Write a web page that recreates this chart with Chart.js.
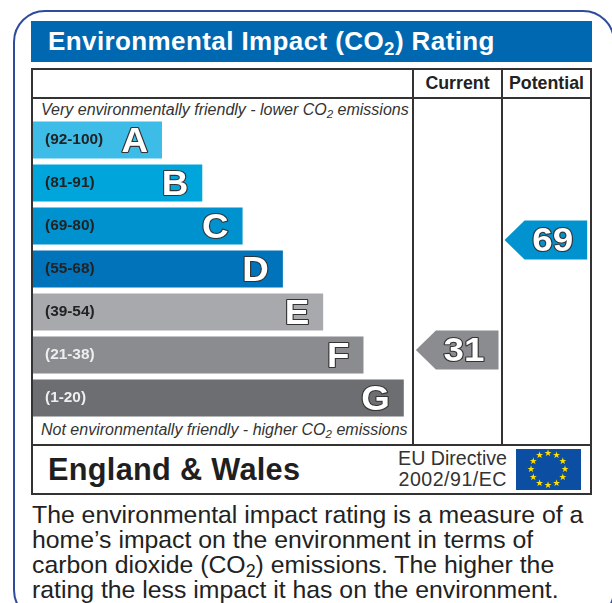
<!DOCTYPE html>
<html>
<head>
<meta charset="utf-8">
<script src="https://cdn.jsdelivr.net/npm/chart.js@4"></script>
<style>
  html, body { margin: 0; padding: 0; background: #fff; overflow: hidden; }
  #page { position: relative; width: 612px; height: 603px; overflow: hidden; font-family: "Liberation Sans", Arial, sans-serif; color: #222; }
  #page div { position: absolute; box-sizing: border-box; white-space: nowrap; }
  canvas { position: absolute; left: 0; top: 0; }
  sub { font-size: 0.72em; line-height: 0; vertical-align: -0.25em; }
  #outer { left: 13px; top: 10px; width: 602px; height: 612px; border: 2.5px solid #2f4b9b; border-radius: 32px; }
  #header { left: 31px; top: 21px; width: 561px; height: 41px; background: #0068b0; color: #fff; font-weight: bold; font-size: 26px; line-height: 41px; padding-left: 17px; letter-spacing: 0.4px; }
  #frame { left: 31px; top: 68px; width: 561px; height: 427px; border: 2px solid #333; }
  .line { background: #333; }
  .col { font-weight: bold; font-size: 17.8px; text-align: center; top: 71px; line-height: 25px; }
  .note { font-style: italic; font-size: 16px; left: 41px; color: #333; }
  #country { left: 48px; top: 452px; font-weight: bold; font-size: 30.7px; line-height: 36px; color: #1f1f1f; letter-spacing: 0.3px; }
  .eu { left: 387px; width: 120px; text-align: right; font-size: 19.6px; line-height: 21px; color: #333; }
  #footer { left: 32px; top: 502px; font-size: 24.8px; line-height: 25px; color: #222; }
</style>
</head>
<body>
<div id="page">
  <div id="outer"></div>
  <div id="header">Environmental Impact (CO<sub>2</sub>) Rating</div>
  <div id="frame"></div>
  <div class="line" style="left:31px;top:97px;width:561px;height:2px"></div>
  <div class="line" style="left:31px;top:444px;width:561px;height:2px"></div>
  <div class="line" style="left:412px;top:68px;width:2px;height:377px"></div>
  <div class="line" style="left:501px;top:68px;width:2px;height:377px"></div>
  <div class="col" style="left:414px;width:87px">Current</div>
  <div class="col" style="left:503px;width:87px">Potential</div>
  <div class="note" style="top:101px">Very environmentally friendly - lower CO<sub>2</sub> emissions</div>
  <div class="note" style="top:421px">Not environmentally friendly - higher CO<sub>2</sub> emissions</div>
  <div id="country">England &amp; Wales</div>
  <div class="eu" style="top:448px">EU Directive</div>
  <div class="eu" style="top:469px;letter-spacing:0.5px">2002/91/EC</div>
  <div id="footer">The environmental impact rating is a measure of a<br>home’s impact on the environment in terms of<br>carbon dioxide (CO<sub>2</sub>) emissions. The higher the<br>rating the less impact it has on the environment.</div>
  <canvas id="myChart" width="612" height="603"></canvas>
</div>
<script>
var bandRanges = ['(92-100)', '(81-91)', '(69-80)', '(55-68)', '(39-54)', '(21-38)', '(1-20)'];
var bandLetters = ['A', 'B', 'C', 'D', 'E', 'F', 'G'];
var bandLengths = [32, 42, 52, 62, 72, 82, 92];
var bandColors = ['#3dbce8', '#00a5dc', '#0091cf', '#0073bb', '#a7a9ac', '#8a8c8f', '#6d6e71'];
var bandTextColors = ['#222', '#222', '#222', '#222', '#222', '#eee', '#eee'];
var currentRating = 31;
var potentialRating = 69;

// white text with a dark outline, stretched a bit wider like the label's lettering
function outlined(ctx, text, x, y, size, align, stretch) {
  ctx.save();
  ctx.translate(x, y);
  ctx.scale(stretch, 1);
  ctx.font = 'bold ' + size + 'px "Liberation Sans", Arial, sans-serif';
  ctx.textAlign = align;
  ctx.textBaseline = 'middle';
  ctx.lineJoin = 'round';
  ctx.lineWidth = 2.2;
  ctx.strokeStyle = '#333';
  ctx.strokeText(text, 0, 0);
  ctx.fillStyle = '#fff';
  ctx.fillText(text, 0, 0);
  ctx.restore();
}

function arrow(chart, value, from, to, color) {
  var ctx = chart.ctx;
  var x0 = chart.scales.x.getPixelForValue(from);
  var x1 = chart.scales.x.getPixelForValue(to);
  var y = chart.scales.rating.getPixelForValue(value);
  ctx.fillStyle = color;
  ctx.beginPath();
  ctx.moveTo(x0, y);
  ctx.lineTo(x0 + 20, y - 19.5);
  ctx.lineTo(x1, y - 19.5);
  ctx.lineTo(x1, y + 19.5);
  ctx.lineTo(x0 + 20, y + 19.5);
  ctx.closePath();
  ctx.fill();
  outlined(ctx, String(value), x1 - 34.5, y + 2, 34, 'center', 1.08);
}

var extras = {
  id: 'extras',
  afterDatasetsDraw: function(chart) {
    var ctx = chart.ctx;
    ctx.save();
    // letters sit inside the bar ends
    chart.getDatasetMeta(0).data.forEach(function(bar, i) {
      outlined(ctx, bandLetters[i], bar.x - 14, bar.y + 2, 35, 'right', 1.05);
    });
    arrow(chart, currentRating, 95, 115.5, '#8a8c8f');
    arrow(chart, potentialRating, 117, 137.5, '#0093d0');

    // EU flag
    ctx.fillStyle = '#0b4ea2';
    ctx.fillRect(516, 449, 65, 41);
    ctx.fillStyle = '#ffe000';
    ctx.font = '9px "DejaVu Sans"';
    ctx.textAlign = 'center';
    ctx.textBaseline = 'middle';
    for (var i = 0; i < 12; i++) {
      var a = i * Math.PI / 6;
      ctx.fillText('★', 548 + 17 * Math.sin(a), 469.5 - 16 * Math.cos(a));
    }
    ctx.restore();
  }
};

var ctx = document.getElementById('myChart').getContext('2d');
var chart = new Chart(ctx, {
  type: 'bar',
  data: {
    labels: bandRanges,
    datasets: [{
      data: bandLengths,
      backgroundColor: bandColors,
      barPercentage: 0.86,
      categoryPercentage: 1
    }]
  },
  options: {
    indexAxis: 'y',
    responsive: false,
    animation: false,
    layout: { padding: { left: 33, right: 20, top: 118.5, bottom: 183.5 } },
    plugins: { legend: { display: false }, tooltip: { enabled: false } },
    scales: {
      x: { min: 0, max: 138.7, display: false },
      y: {
        grid: { display: false, drawTicks: false },
        border: { display: false },
        afterFit: function(scale) { scale.width = 0; },
        ticks: {
          mirror: true,
          z: 1,
          padding: 12,
          font: { family: '"Liberation Sans", Arial, sans-serif', size: 15.4, weight: 'bold' },
          color: function(c) { return bandTextColors[c.index]; }
        }
      },
      // bar charts turn offset on for this axis, the rating scale must not have it
      rating: { type: 'linear', axis: 'y', min: 7, max: 111, offset: false, display: false }
    }
  },
  plugins: [extras]
});
</script>
</body>
</html>
